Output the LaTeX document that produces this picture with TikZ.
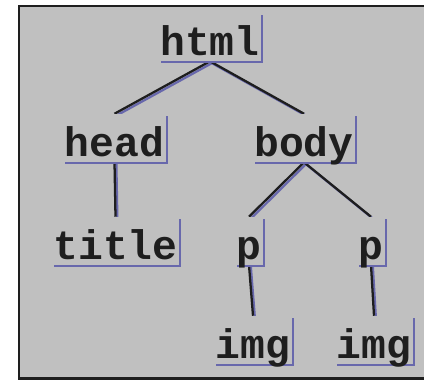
\documentclass[tikz,border=0pt]{standalone}
\usepackage{fontspec}
\setmonofont{Liberation Mono}
\usetikzlibrary{shadows,backgrounds}

\definecolor{panelgray}{RGB}{192,192,192}
\definecolor{shadowblue}{RGB}{104,104,172}
\definecolor{inkblack}{RGB}{30,30,30}

\tikzset{
  tag/.style={font=\ttfamily\bfseries\fontsize{31}{31}\selectfont, text=inkblack,
    fill=panelgray, inner xsep=1.2pt, inner ysep=1.5pt,
    text height=30pt, text depth=3pt,
    general shadow={fill=shadowblue, shadow xshift=1.5pt, shadow yshift=-1.5pt}},
  link/.style={draw=inkblack, line width=1.7pt,
    preaction={draw=shadowblue, line width=1.7pt,
      transform canvas={shift={(1.4pt,-1.4pt)}}}}
}

\begin{document}
\begin{tikzpicture}[x=0.75pt,y=-0.75pt]
    \useasboundingbox (0,0) rectangle (424,382);
    \node[tag] (html) at (210,37) {html};
    \node[tag] (head) at (114.5,138) {head};
    \node[tag] (body) at (304,138) {body};
    \node[tag] (title) at (115.5,241) {title};
    \node[tag] (p1) at (249,241) {p};
    \node[tag] (p2) at (371,241) {p};
    \node[tag] (img1) at (253,340) {img};
    \node[tag] (img2) at (374,340) {img};
    \begin{scope}[on background layer]
      \draw [fill=panelgray, draw=inkblack, line width=2pt] (19,6) rectangle (440,378.5);
      \draw [link] (html.south) -- (head.north);
      \draw [link] (html.south) -- (body.north);
      \draw [link] (head.south) -- (title.north);
      \draw [link] (body.south) -- (p1.north);
      \draw [link] (body.south) -- (p2.north);
      \draw [link] (p1.south) -- (img1.north);
      \draw [link] (p2.south) -- (img2.north);
    \end{scope}
  \end{tikzpicture}
\end{document}
